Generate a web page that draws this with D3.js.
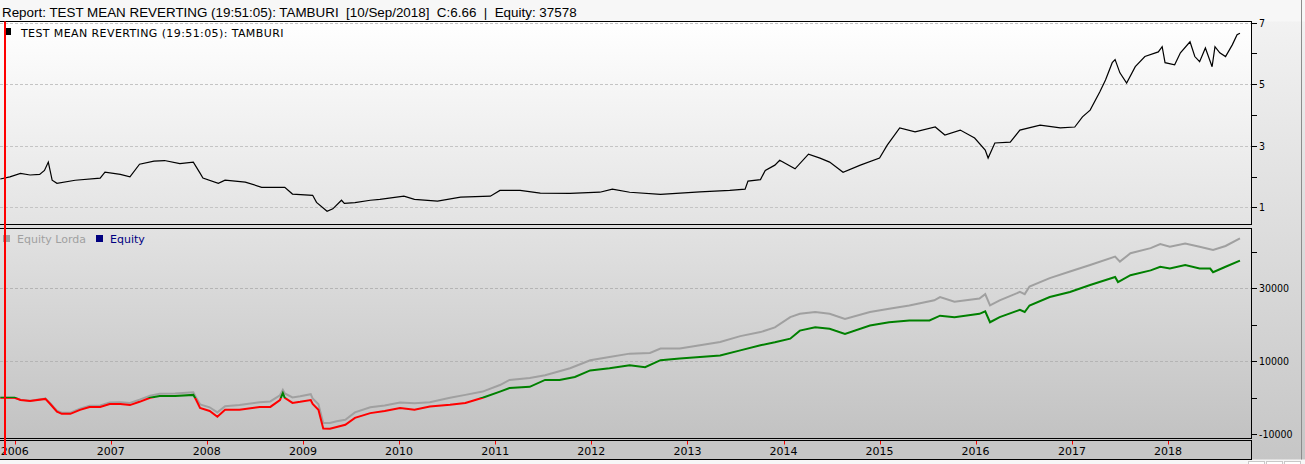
<!DOCTYPE html>
<html>
<head>
<meta charset="utf-8">
<script src="https://cdn.jsdelivr.net/npm/d3@7"></script>
<style>
  body { margin: 0; background: #fff; }
  svg { display: block; }
  text { font-family: "DejaVu Sans", Verdana, sans-serif; }
</style>
</head>
<body>
<svg id="chart" width="1305" height="464"></svg>
<script>
// ---- data (decimal years) ----
const priceYears = [2005.85, 2005.95, 2006.06, 2006.16, 2006.26, 2006.31, 2006.35, 2006.39, 2006.44, 2006.63, 2006.89, 2006.94,
  2007.1, 2007.2, 2007.3, 2007.45, 2007.56, 2007.72, 2007.86, 2007.93, 2007.96, 2008.12, 2008.19, 2008.4, 2008.57, 2008.81,
  2008.89, 2009.1, 2009.14, 2009.25, 2009.31, 2009.4, 2009.43, 2009.54, 2009.7, 2009.8, 2010.05, 2010.16, 2010.4, 2010.64,
  2010.95, 2011.05, 2011.26, 2011.47, 2011.78, 2012.09, 2012.22, 2012.4, 2012.72, 2013.13, 2013.44, 2013.6, 2013.63, 2013.76,
  2013.81, 2013.91, 2013.96, 2014.12, 2014.26, 2014.38, 2014.48, 2014.62, 2014.8, 2015.0, 2015.08, 2015.21, 2015.37, 2015.58,
  2015.68, 2015.84, 2015.99, 2016.1, 2016.13, 2016.2, 2016.36, 2016.46, 2016.67, 2016.88, 2017.03, 2017.11, 2017.19, 2017.29,
  2017.35, 2017.42, 2017.45, 2017.5, 2017.57, 2017.66, 2017.76, 2017.9, 2017.94, 2017.97, 2018.07, 2018.13, 2018.23, 2018.28,
  2018.33, 2018.39, 2018.46, 2018.49, 2018.54, 2018.6, 2018.67, 2018.72, 2018.75];
const priceValues = [1.92, 1.99, 2.1, 2.05, 2.07, 2.2, 2.47, 1.88, 1.78, 1.88, 1.95, 2.14,
  2.07, 1.99, 2.4, 2.5, 2.52, 2.42, 2.47, 2.11, 1.95, 1.78, 1.88, 1.82, 1.65, 1.65,
  1.43, 1.39, 1.16, 0.87, 0.95, 1.23, 1.13, 1.15, 1.23, 1.26, 1.36, 1.26, 1.2, 1.33,
  1.36, 1.55, 1.55, 1.46, 1.45, 1.49, 1.59, 1.49, 1.42, 1.5, 1.55, 1.59, 1.85, 1.9,
  2.2, 2.37, 2.53, 2.25, 2.73, 2.6, 2.47, 2.14, 2.37, 2.6, 3.02, 3.58, 3.45, 3.61,
  3.35, 3.51, 3.25, 2.86, 2.6, 3.09, 3.12, 3.51, 3.67, 3.58, 3.61, 3.94, 4.16, 4.75,
  5.14, 5.7, 5.8, 5.37, 5.04, 5.57, 5.9, 6.05, 6.22, 5.7, 5.63, 6.02, 6.38, 5.9,
  5.73, 6.18, 5.57, 6.22, 6.02, 5.9, 6.28, 6.61, 6.66];

const equityYears = [2005.85, 2006.0, 2006.06, 2006.16, 2006.32, 2006.37, 2006.44, 2006.49, 2006.58, 2006.68, 2006.78, 2006.89,
  2006.99, 2007.1, 2007.2, 2007.3, 2007.41, 2007.51, 2007.67, 2007.86, 2007.89, 2007.93, 2008.03, 2008.11, 2008.19, 2008.34,
  2008.55, 2008.66, 2008.76, 2008.79, 2008.81, 2008.89, 2008.97, 2009.08, 2009.1, 2009.16, 2009.21, 2009.28, 2009.35, 2009.44,
  2009.54, 2009.7, 2009.85, 2010.01, 2010.16, 2010.32, 2010.53, 2010.69, 2010.87, 2011.05, 2011.15, 2011.36, 2011.52, 2011.67,
  2011.83, 2011.99, 2012.19, 2012.4, 2012.56, 2012.72, 2012.92, 2013.13, 2013.34, 2013.55, 2013.76, 2013.91, 2014.07, 2014.17,
  2014.33, 2014.48, 2014.64, 2014.9, 2015.1, 2015.31, 2015.52, 2015.63, 2015.78, 2016.04, 2016.1, 2016.15, 2016.25, 2016.46,
  2016.51, 2016.56, 2016.77, 2016.98, 2017.19, 2017.45, 2017.48, 2017.61, 2017.82, 2017.92, 2018.02, 2018.18, 2018.33, 2018.44,
  2018.47, 2018.6, 2018.75];
const equityValues = [0, 0, -600, -900, -300, -1700, -3800, -4400, -4400, -3300, -2500, -2500,
  -1700, -1700, -2000, -1100, 0, 500, 500, 800, -600, -2800, -3600, -5200, -3300, -3300,
  -2500, -2500, -600, 1300, 0, -1400, -1100, -600, -1700, -3300, -8400, -8500, -8000, -7400,
  -5500, -4200, -3600, -2800, -3300, -2400, -1900, -1400, 0, 1700, 2700, 3000, 4900, 4900,
  5700, 7500, 8100, 8900, 8400, 10300, 10800, 11200, 11600, 13000, 14400, 15200, 16200, 18400,
  19300, 18900, 17500, 19800, 20700, 21200, 21200, 22500, 22100, 23000, 23700, 20700, 22100, 24100,
  23500, 25300, 27600, 29000, 30900, 33100, 31700, 33600, 34900, 35900, 35400, 36400, 35400, 35400,
  34400, 35900, 37578];

const grossYears = [2005.85, 2006.0, 2006.06, 2006.16, 2006.32, 2006.37, 2006.44, 2006.49, 2006.58, 2006.68, 2006.78, 2006.89,
  2006.99, 2007.1, 2007.2, 2007.3, 2007.41, 2007.51, 2007.67, 2007.86, 2007.89, 2007.93, 2008.03, 2008.11, 2008.19, 2008.34,
  2008.55, 2008.66, 2008.76, 2008.79, 2008.81, 2008.89, 2008.97, 2009.08, 2009.1, 2009.16, 2009.21, 2009.28, 2009.35, 2009.44,
  2009.54, 2009.7, 2009.85, 2010.01, 2010.16, 2010.32, 2010.53, 2010.69, 2010.87, 2011.05, 2011.15, 2011.36, 2011.52, 2011.78,
  2011.99, 2012.19, 2012.4, 2012.61, 2012.72, 2012.92, 2013.13, 2013.34, 2013.55, 2013.76, 2013.91, 2014.07, 2014.17, 2014.33,
  2014.48, 2014.64, 2014.9, 2015.1, 2015.31, 2015.57, 2015.63, 2015.78, 2016.04, 2016.1, 2016.15, 2016.25, 2016.46, 2016.51,
  2016.56, 2016.77, 2016.98, 2017.19, 2017.45, 2017.5, 2017.61, 2017.82, 2017.92, 2018.02, 2018.18, 2018.33, 2018.47, 2018.6,
  2018.75];
const grossValues = [0, 0, -500, -800, -200, -1500, -3500, -4100, -4100, -3000, -2200, -2100,
  -1300, -1200, -1400, -500, 600, 1100, 1200, 1500, 0, -1800, -2600, -4000, -2300, -2000,
  -1200, -1000, 700, 2200, 1200, 100, 400, 1000, -200, -1800, -6900, -6900, -6400, -6000,
  -4000, -2600, -2100, -1300, -1500, -1200, 0, 800, 1700, 3500, 4900, 5400, 6200, 8100,
  10300, 11200, 12100, 12300, 13500, 13500, 14400, 15300, 16900, 18000, 19300, 22100, 23000, 23500,
  23000, 21600, 23500, 24400, 25300, 26700, 27600, 26300, 27200, 28400, 25300, 26700, 29000, 28400,
  30500, 32800, 34600, 36400, 38700, 37300, 39600, 41000, 42100, 41400, 42300, 41400, 40500, 41600,
  43700];

const yearTicks = [2006, 2007, 2008, 2009, 2010, 2011, 2012, 2013, 2014, 2015, 2016, 2017, 2018];
const priceTicks = [1, 3, 5, 7];
const priceMinorTicks = [2, 4, 6];
const equityTicks = [-10000, 10000, 30000];
const equityMinorTicks = [0, 20000, 40000];
const titleText = "Report: TEST MEAN REVERTING (19:51:05): TAMBURI  [10/Sep/2018]  C:6.66  |  Equity: 37578";
const priceLabel = "TEST MEAN REVERTING (19:51:05): TAMBURI";
const legendNames = ["Equity Lorda", "Equity"];
const legendColors = ["#a0a0a0", "#000080"];

// ---- helpers ----
function yearToDate(y) {
  const yr = Math.floor(y);
  const a = Date.UTC(yr, 0, 1), b = Date.UTC(yr + 1, 0, 1);
  return new Date(a + (y - yr) * (b - a));
}
function zip(ys, vs) {
  return ys.map(function(y, i) { return { t: yearToDate(y), v: vs[i] }; });
}

const W = 1305, H = 464;
const plotRight = 1251.5;
const top1 = 21.5, bot1 = 224.5;
const top2 = 228.5, bot2 = 438.5;
const axTop = 440.5, axBot = 459.5;

const svg = d3.select("#chart");
const defs = svg.append("defs");

function vGrad(id, c0, c1, y0, y1) {
  const g = defs.append("linearGradient").attr("id", id)
    .attr("gradientUnits", "userSpaceOnUse")
    .attr("x1", 0).attr("x2", 0).attr("y1", y0).attr("y2", y1);
  g.append("stop").attr("offset", 0).attr("stop-color", c0);
  g.append("stop").attr("offset", 1).attr("stop-color", c1);
}
vGrad("bgGrad", "#f4f4f4", "#c6c6c6", 0, axBot);
vGrad("p1Grad", "#ffffff", "#e3e3e3", top1, bot1);
vGrad("p2Grad", "#e2e2e2", "#c2c2c2", top2, bot2);

// ---- scales ----
const x = d3.scaleUtc()
  .domain([yearToDate(2005.847), yearToDate(2018.865)])
  .range([0, 1251]);
const yPrice = d3.scaleLinear().domain([1, 7]).range([207.3, 22.7]);
const yEq = d3.scaleLinear().domain([-10000, 30000]).range([434.3, 288.3]);

// ---- background ----
svg.append("rect").attr("width", W).attr("height", H).attr("fill", "#f7f7f7");
svg.append("rect").attr("x", 0).attr("y", top1).attr("width", W).attr("height", axBot - top1)
  .attr("fill", "url(#bgGrad)");
svg.append("line").attr("x1", W - 3.5).attr("x2", W - 3.5).attr("y1", 0).attr("y2", axBot)
  .attr("stroke", "#8c8c8c");

// title (double spaces kept)
svg.append("text").attr("x", 2).attr("y", 16.5)
  .attr("xml:space", "preserve")
  .style("white-space", "pre")
  .style("font-family", "'Liberation Sans', Arial, sans-serif")
  .style("font-size", "13.4px")
  .attr("fill", "#000")
  .text(titleText);

// ---- panels ----
svg.append("rect").attr("x", -0.5).attr("y", top1).attr("width", plotRight + 0.5).attr("height", bot1 - top1)
  .attr("fill", "url(#p1Grad)").attr("stroke", "#000");
svg.append("rect").attr("x", -0.5).attr("y", top2).attr("width", plotRight + 0.5).attr("height", bot2 - top2)
  .attr("fill", "url(#p2Grad)").attr("stroke", "#000");
svg.append("rect").attr("x", -0.5).attr("y", axTop).attr("width", plotRight + 0.5).attr("height", axBot - axTop)
  .attr("fill", "#c6c6c6").attr("stroke", "#000");

defs.append("clipPath").attr("id", "clip1").append("rect")
  .attr("x", 0).attr("y", top1 + 0.5).attr("width", 1251).attr("height", bot1 - top1 - 1);
defs.append("clipPath").attr("id", "clip2").append("rect")
  .attr("x", 0).attr("y", top2 + 0.5).attr("width", 1251).attr("height", bot2 - top2 - 1);

// grid lines
svg.append("g").selectAll("line").data(priceTicks).enter().append("line")
  .attr("x1", 0).attr("x2", 1251)
  .attr("y1", function(d) { return Math.round(yPrice(d)) + 0.5; })
  .attr("y2", function(d) { return Math.round(yPrice(d)) + 0.5; })
  .attr("stroke", "#c4c4c4").attr("stroke-dasharray", "3,2");
svg.append("g").selectAll("line").data(equityTicks.filter(function(d) { return d > -10000; })).enter().append("line")
  .attr("x1", 0).attr("x2", 1251)
  .attr("y1", function(d) { return Math.round(yEq(d)) + 0.5; })
  .attr("y2", function(d) { return Math.round(yEq(d)) + 0.5; })
  .attr("stroke", "#b4b4b4").attr("stroke-dasharray", "3,2");

// ---- right axes ----
function rightAxis(scale, major, minor) {
  const g = svg.append("g").attr("transform", "translate(1251,0)");
  g.selectAll(".tk").data(major.concat(minor)).enter().append("line")
    .attr("x1", 0).attr("x2", 6)
    .attr("y1", function(d) { return Math.round(scale(d)) + 0.5; })
    .attr("y2", function(d) { return Math.round(scale(d)) + 0.5; })
    .attr("stroke", "#000");
  g.selectAll("text").data(major).enter().append("text")
    .attr("x", 8)
    .attr("y", function(d) { return scale(d) + 4; })
    .style("font-family", "'DejaVu Sans Condensed', 'DejaVu Sans', sans-serif")
    .style("font-stretch", "condensed")
    .style("font-size", "10.5px")
    .attr("fill", "#000")
    .text(function(d) { return d; });
}
rightAxis(yPrice, priceTicks, priceMinorTicks);
rightAxis(yEq, equityTicks, equityMinorTicks);

// ---- price line ----
const priceData = zip(priceYears, priceValues);
svg.append("path").datum(priceData)
  .attr("clip-path", "url(#clip1)")
  .attr("fill", "none").attr("stroke", "#000").attr("stroke-width", 1.2)
  .attr("d", d3.line().x(function(d) { return x(d.t); }).y(function(d) { return yPrice(d.v); }));

// ---- equity lines ----
const eqLine = d3.line().x(function(d) { return x(d.t); }).y(function(d) { return yEq(d.v); });
const zeroOff = (yEq(0) - top2) / (bot2 - top2);
const eg = defs.append("linearGradient").attr("id", "eqColor")
  .attr("gradientUnits", "userSpaceOnUse")
  .attr("x1", 0).attr("x2", 0).attr("y1", top2).attr("y2", bot2);
eg.append("stop").attr("offset", 0).attr("stop-color", "#008000");
eg.append("stop").attr("offset", zeroOff).attr("stop-color", "#008000");
eg.append("stop").attr("offset", zeroOff).attr("stop-color", "#ff0000");
eg.append("stop").attr("offset", 1).attr("stop-color", "#ff0000");

svg.append("path").datum(zip(grossYears, grossValues))
  .attr("clip-path", "url(#clip2)")
  .attr("fill", "none").attr("stroke", "#a0a0a0").attr("stroke-width", 2)
  .attr("d", eqLine);
svg.append("path").datum(zip(equityYears, equityValues))
  .attr("clip-path", "url(#clip2)")
  .attr("fill", "none").attr("stroke", "url(#eqColor)").attr("stroke-width", 2)
  .attr("d", eqLine);

// ---- legends ----
svg.append("rect").attr("x", 5).attr("y", 28).attr("width", 6).attr("height", 7).attr("fill", "#000");
svg.append("text").attr("x", 21).attr("y", 36.5)
  .style("font-size", "11px").style("letter-spacing", "0.4px")
  .attr("fill", "#000").text(priceLabel);

const leg = svg.append("g").attr("transform", "translate(0,235)");
const legX = [3, 96];
leg.selectAll("rect").data(legendNames).enter().append("rect")
  .attr("x", function(d, i) { return legX[i]; }).attr("y", 0)
  .attr("width", 7).attr("height", 7)
  .attr("fill", function(d, i) { return legendColors[i]; });
leg.selectAll("text").data(legendNames).enter().append("text")
  .attr("x", function(d, i) { return legX[i] + 14; }).attr("y", 8)
  .style("font-size", "11px")
  .attr("fill", function(d, i) { return legendColors[i]; })
  .text(function(d) { return d; });

// ---- x axis ----
const xg = svg.append("g");
xg.selectAll("line").data(yearTicks).enter().append("line")
  .attr("x1", function(d) { return Math.round(x(yearToDate(d))) + 0.5; })
  .attr("x2", function(d) { return Math.round(x(yearToDate(d))) + 0.5; })
  .attr("y1", axTop + 0.5).attr("y2", axTop + 4)
  .attr("stroke", "#ff0000");
xg.selectAll("text").data(yearTicks).enter().append("text")
  .attr("x", function(d) { return x(yearToDate(d)); })
  .attr("y", 455)
  .attr("text-anchor", "middle")
  .style("font-size", "11px")
  .attr("fill", "#000")
  .text(function(d) { return d; });

// red cursor line
svg.append("line").attr("x1", 5).attr("x2", 5).attr("y1", top1).attr("y2", 455)
  .attr("stroke", "#ff0000").attr("stroke-width", 2);

// little scroll buttons bottom right
svg.append("g").selectAll("rect").data([1248, 1266, 1284]).enter().append("rect")
  .attr("x", function(d) { return d + 0.5; }).attr("y", 461.5)
  .attr("width", 16).attr("height", 6)
  .attr("fill", "#fff").attr("stroke", "#c8c8c8");
</script>
</body>
</html>
